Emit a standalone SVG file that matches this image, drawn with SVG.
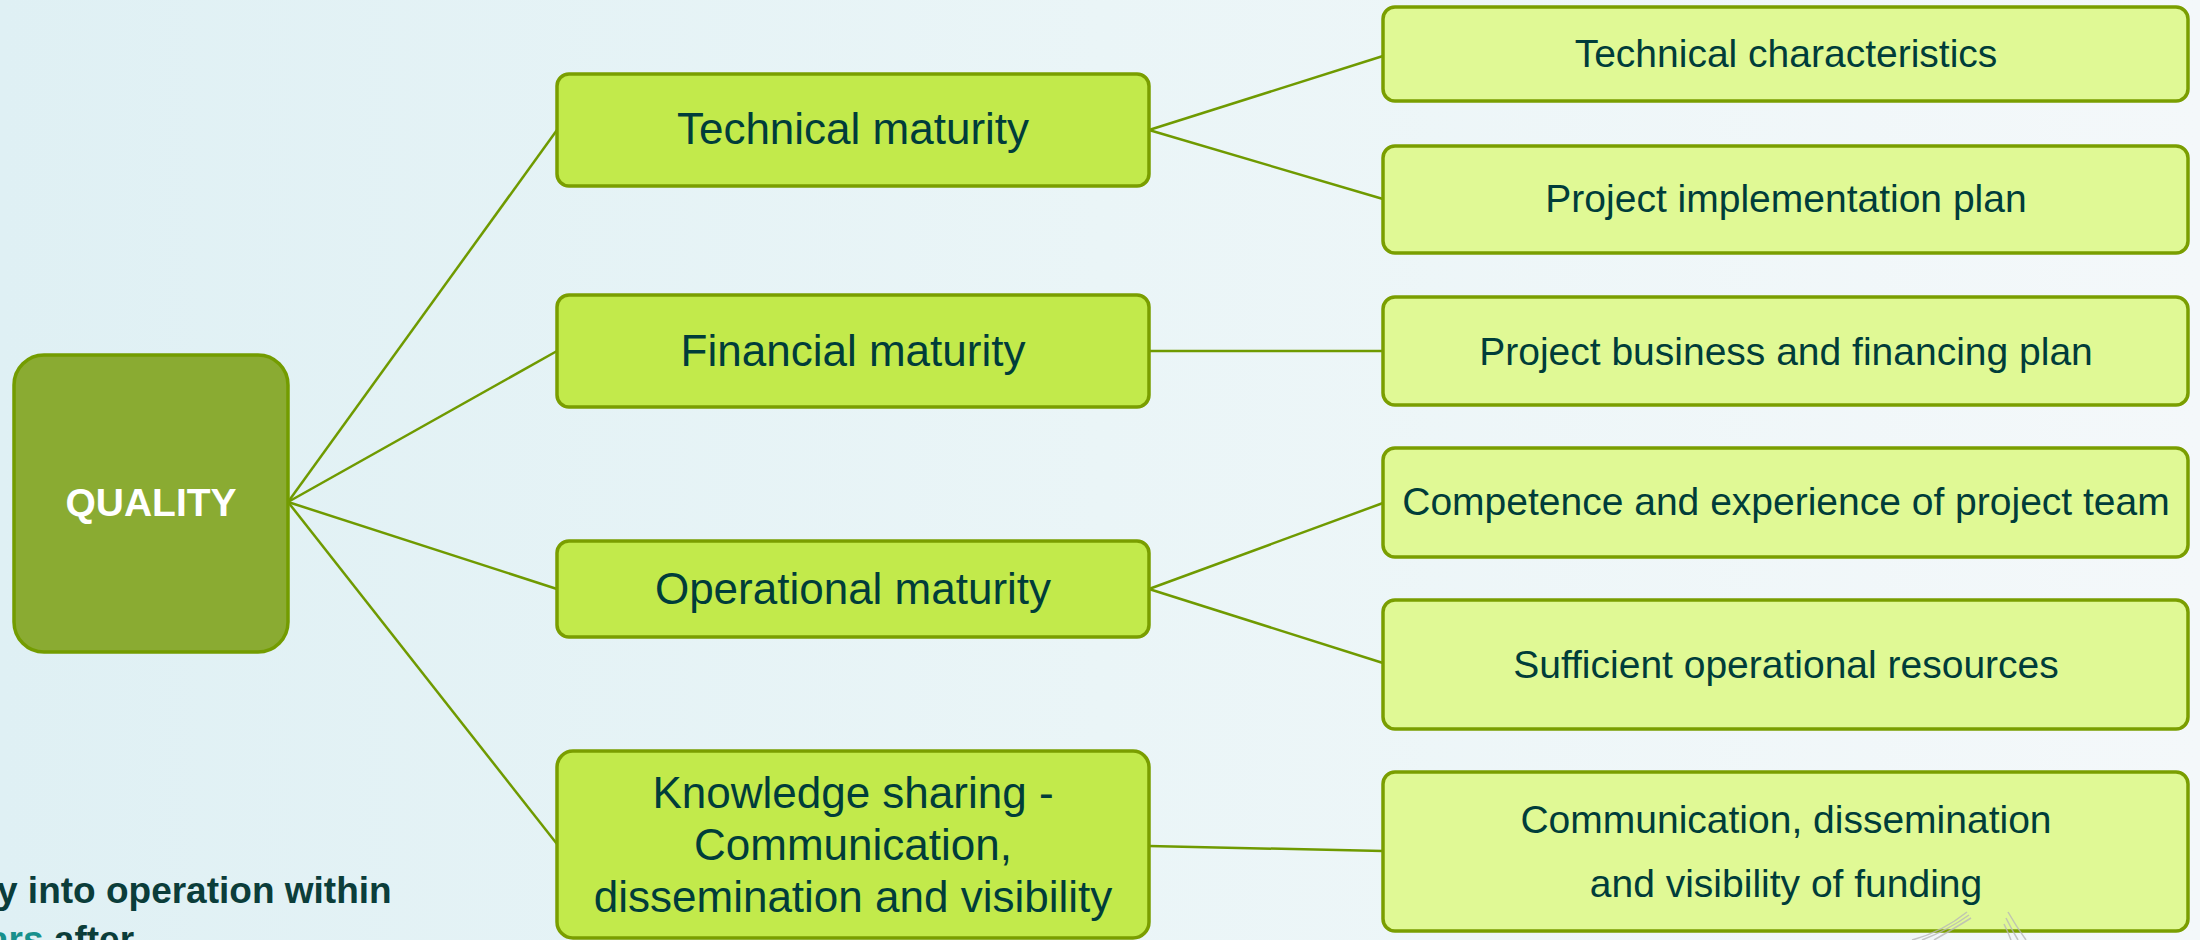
<svg xmlns="http://www.w3.org/2000/svg" width="2200" height="940" viewBox="0 0 2200 940">
  <defs>
    <linearGradient id="bg" x1="0" y1="0" x2="1" y2="0">
      <stop offset="0" stop-color="#dff0f4"/>
      <stop offset="0.5" stop-color="#eaf5f7"/>
      <stop offset="1" stop-color="#f4f8fa"/>
    </linearGradient>
  </defs>
  <style>
    .root { fill: #8aab32; stroke: #739c00; stroke-width: 3.5; }
    .l2 { fill: #c2ea4b; stroke: #7a9e00; stroke-width: 3.5; }
    .l3 { fill: #e0f995; stroke: #7a9e00; stroke-width: 3.5; }
    .t2 { font-family: "Liberation Sans", Arial, sans-serif; font-size: 44px; fill: #003d3a; text-anchor: middle; }
    .t3 { font-family: "Liberation Sans", Arial, sans-serif; font-size: 39px; fill: #003d3a; text-anchor: middle; }
    .troot { font-family: "Liberation Sans", Arial, sans-serif; font-size: 39px; font-weight: bold; fill: #ffffff; text-anchor: middle; }
    .conn line { stroke: #6f9a00; stroke-width: 2.5; fill: none; }
    .side { font-family: "Liberation Sans", Arial, sans-serif; font-size: 37px; font-weight: bold; fill: #0b3d3a; }
    .wm path { stroke: #b8b8b8; stroke-width: 1.5; fill: none; opacity: 0.8; }
  </style>
  <rect x="0" y="0" width="2200" height="940" fill="url(#bg)"/>

  <g id="connectors" class="conn">
    <line x1="288" y1="502" x2="557" y2="130"/>
    <line x1="288" y1="502" x2="557" y2="351"/>
    <line x1="288" y1="502" x2="557" y2="589"/>
    <line x1="288" y1="502" x2="557" y2="844"/>
    <line x1="1149" y1="130" x2="1383" y2="56"/>
    <line x1="1149" y1="130" x2="1383" y2="199"/>
    <line x1="1149" y1="351" x2="1383" y2="351"/>
    <line x1="1149" y1="589" x2="1383" y2="503"/>
    <line x1="1149" y1="589" x2="1383" y2="663"/>
    <line x1="1149" y1="846" x2="1383" y2="851"/>
  </g>

  <g id="quality">
    <rect class="root" x="14" y="355" width="274" height="297" rx="30"/>
    <text class="troot" x="151" y="516">QUALITY</text>
  </g>

  <g id="technical-maturity">
    <rect class="l2" x="557" y="74" width="592" height="112" rx="12"/>
    <text class="t2" x="853" y="144">Technical maturity</text>
  </g>
  <g id="financial-maturity">
    <rect class="l2" x="557" y="295" width="592" height="112" rx="12"/>
    <text class="t2" x="853" y="366">Financial maturity</text>
  </g>
  <g id="operational-maturity">
    <rect class="l2" x="557" y="541" width="592" height="96" rx="12"/>
    <text class="t2" x="853" y="604">Operational maturity</text>
  </g>
  <g id="knowledge-sharing">
    <rect class="l2" x="557" y="751" width="592" height="187" rx="16"/>
    <text class="t2" x="853" y="808">Knowledge sharing -</text>
    <text class="t2" x="853" y="860">Communication,</text>
    <text class="t2" x="853" y="912">dissemination and visibility</text>
  </g>

  <g id="technical-characteristics">
    <rect class="l3" x="1383" y="7" width="805" height="94" rx="12"/>
    <text class="t3" x="1786" y="67">Technical characteristics</text>
  </g>
  <g id="project-implementation-plan">
    <rect class="l3" x="1383" y="146" width="805" height="107" rx="12"/>
    <text class="t3" x="1786" y="212">Project implementation plan</text>
  </g>
  <g id="project-business-plan">
    <rect class="l3" x="1383" y="297" width="805" height="108" rx="12"/>
    <text class="t3" x="1786" y="365">Project business and financing plan</text>
  </g>
  <g id="competence">
    <rect class="l3" x="1383" y="448" width="805" height="109" rx="12"/>
    <text class="t3" x="1786" y="515">Competence and experience of project team</text>
  </g>
  <g id="operational-resources">
    <rect class="l3" x="1383" y="600" width="805" height="129" rx="12"/>
    <text class="t3" x="1786" y="678">Sufficient operational resources</text>
  </g>
  <g id="communication-funding">
    <rect class="l3" x="1383" y="772" width="805" height="159" rx="12"/>
    <text class="t3" x="1786" y="833">Communication, dissemination</text>
    <text class="t3" x="1786" y="897">and visibility of funding</text>
  </g>

  <g id="side-text">
    <text class="side" x="-3" y="903">y into operation within</text>
    <text class="side" x="-12" y="952"><tspan fill="#17908c">ars</tspan> after</text>
  </g>

  <g id="watermark" class="wm">
    <path d="M1912,940 Q1942,932 1967,912"/>
    <path d="M1922,940 Q1948,930 1969,915"/>
    <path d="M1934,940 Q1955,928 1971,918"/>
    <path d="M2008,912 Q2016,926 2026,940"/>
    <path d="M2006,918 Q2012,930 2018,940"/>
    <path d="M2004,924 Q2008,932 2011,940"/>
  </g>
</svg>
